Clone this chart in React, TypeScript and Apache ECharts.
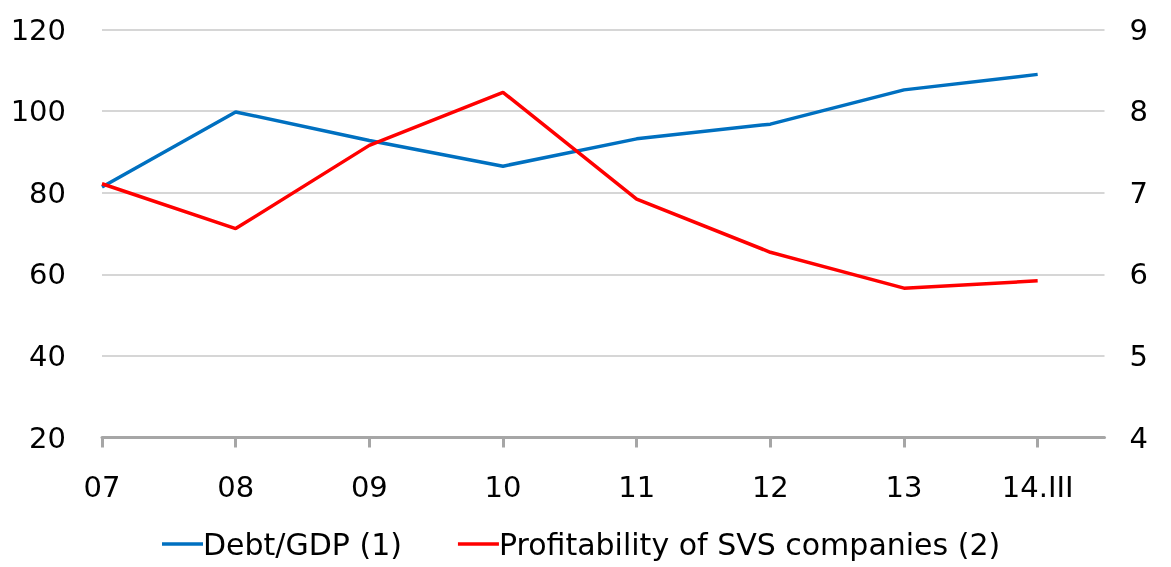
import React, { useEffect, useRef } from "react";
import * as echarts from "echarts";

const categories = ["07", "08", "09", "10", "11", "12", "13", "14.III"];
const debtGdp = [81.4, 99.8, 92.8, 86.5, 93.2, 96.8, 105.2, 109.0];
const profitability = [7.11, 6.56, 7.58, 8.23, 6.92, 6.27, 5.83, 5.92];
const leftTicks = [20, 40, 60, 80, 100, 120];
const rightTicks = [4, 5, 6, 7, 8, 9];

const FONT = "DejaVu Sans";
const FS = 29;

export default function App() {
  const ref = useRef<HTMLDivElement>(null);
  useEffect(() => {
    document.body.style.margin = "0";
    const chart = echarts.init(ref.current!, null, { renderer: "svg" });
    const idx = categories.map((_, i) => i);
    chart.setOption({
      animation: false,
      textStyle: { fontFamily: FONT },
      grid: { left: 102, right: 66.5, top: 29.5, bottom: 129.5, containLabel: false },
      legend: {
        left: 157,
        top: 527,
        padding: [2, 5, 2, 5],
        icon: "rect",
        itemWidth: 41,
        itemHeight: 3.5,
        itemGap: 56,
        textStyle: { fontFamily: FONT, fontSize: 30, color: "#000", padding: [0, 0, 0, -5] },
        data: ["Debt/GDP (1)", "Profitability of SVS companies (2)"],
      },
      xAxis: {
        type: "value",
        min: 0,
        max: 7.5,
        interval: 1,
        axisLine: { show: true, lineStyle: { color: "#a6a6a6", width: 3 } },
        axisTick: { show: true, customValues: idx, length: 10, lineStyle: { color: "#a6a6a6", width: 3 } },
        axisLabel: {
          customValues: idx,
          formatter: (v: number) => categories[v] ?? "",
          fontFamily: FONT,
          fontSize: FS,
          color: "#000",
          margin: 35,
        },
        splitLine: { show: false },
      },
      yAxis: [
        {
          type: "value",
          min: leftTicks[0],
          max: leftTicks[leftTicks.length - 1],
          interval: 20,
          axisLine: { show: false },
          axisTick: { show: false },
          axisLabel: { fontFamily: FONT, fontSize: FS, color: "#000", margin: 36 },
          splitLine: { show: true, lineStyle: { color: "#c8c8c8", width: 1.5 } },
        },
        {
          type: "value",
          min: rightTicks[0],
          max: rightTicks[rightTicks.length - 1],
          interval: 1,
          axisLine: { show: false },
          axisTick: { show: false },
          axisLabel: { fontFamily: FONT, fontSize: FS, color: "#000", margin: 25 },
          splitLine: { show: false },
        },
      ],
      series: [
        {
          name: "Debt/GDP (1)",
          type: "line",
          yAxisIndex: 0,
          symbol: "none",
          data: debtGdp.map((v, i) => [i, v]),
          lineStyle: { color: "#0070C0", width: 3.5 },
          itemStyle: { color: "#0070C0" },
        },
        {
          name: "Profitability of SVS companies (2)",
          type: "line",
          yAxisIndex: 1,
          symbol: "none",
          data: profitability.map((v, i) => [i, v]),
          lineStyle: { color: "#FF0000", width: 3.5 },
          itemStyle: { color: "#FF0000" },
        },
      ],
    });
    return () => chart.dispose();
  }, []);
  return <div ref={ref} style={{ position: "fixed", left: 0, top: 0, width: 1171, height: 567 }} />;
}
